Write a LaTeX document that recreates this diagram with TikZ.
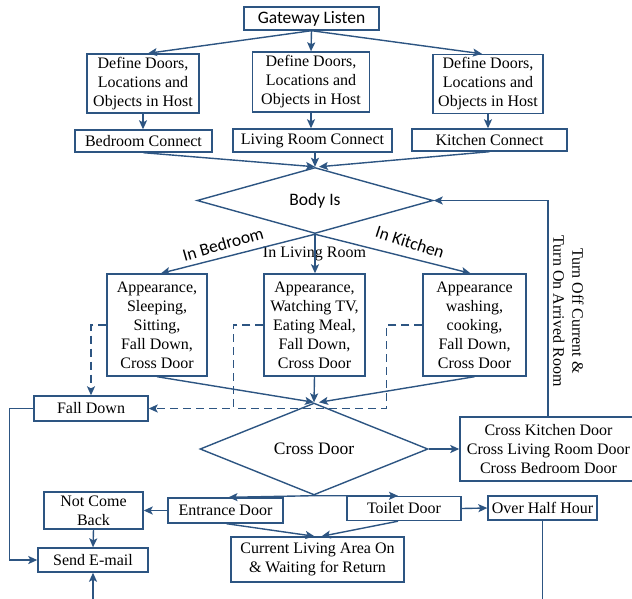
\documentclass[tikz,border=0pt]{standalone}
\usepackage{fontspec}
\setmainfont{Liberation Serif}
\newfontfamily\calibri{Carlito}
\usepackage{tikz}
\usetikzlibrary{arrows.meta,%
		positioning,%
		shapes.geometric}

\definecolor{flowblue}{RGB}{45,85,130}

\begin{document}
\begin{tikzpicture}[x=1pt,y=-1pt,font=\fontsize{16}{19}\selectfont,
  >={Stealth[length=9pt,width=8pt,inset=2pt]},
  box/.style={draw=flowblue,line width=1.4pt,inner sep=0pt,align=center},
  decision/.style={draw=flowblue,line width=1.4pt,diamond,inner sep=0pt},
  sanstext/.style={font=\calibri\fontsize{17.5}{20}\selectfont},
  arrow/.style={->,draw=flowblue,line width=1.4pt},
  dashline/.style={draw=flowblue,line width=1.4pt,dash pattern=on 8pt off 5pt},
  dasharrow/.style={dashline,->}]
  \useasboundingbox (0,0) rectangle (632,598);
  \clip (0,0) rectangle (632,598);

  \node [box,sanstext,minimum width=135pt,minimum height=23pt] (gw) at (311.5,18.5) {Gateway Listen};

  \node [box,minimum width=112pt,minimum height=59pt] (def1) at (143,83.5) {Define Doors,\\Locations and\\Objects in Host};
  \node [box,minimum width=117pt,minimum height=60pt] (def2) at (311,82) {Define Doors,\\Locations and\\Objects in Host};
  \node [box,minimum width=110pt,minimum height=59pt] (def3) at (488,84) {Define Doors,\\Locations and\\Objects in Host};

  \node [box,minimum width=137pt,minimum height=22pt] (con1) at (143.5,141) {Bedroom Connect};
  \node [box,minimum width=159pt,minimum height=23pt] (con2) at (312.5,140.5) {Living Room Connect};
  \node [box,minimum width=155pt,minimum height=22pt] (con3) at (489.5,140) {Kitchen Connect};

  \node [decision,sanstext,minimum width=236pt,minimum height=55pt] (body) at (315,200.5) {Body Is};

  \node [box,minimum width=100pt,minimum height=102pt] (app1) at (157,325) {Appearance,\\Sleeping,\\Sitting,\\Fall Down,\\Cross Door};
  \node [box,minimum width=101pt,minimum height=102pt] (app2) at (314.5,325) {Appearance,\\Watching TV,\\Eating Meal,\\Fall Down,\\Cross Door};
  \node [box,minimum width=103pt,minimum height=102pt] (app3) at (474.5,325) {Appearance\\washing,\\cooking,\\Fall Down,\\Cross Door};

  \node [box,minimum width=114pt,minimum height=25pt] (fall) at (91,408.5) {Fall Down};
  \node [decision,font=\fontsize{17.5}{20}\selectfont,minimum width=228pt,minimum height=54pt] (cross) at (314,449) {Cross Door};
  \node [box,minimum width=177pt,minimum height=64pt] (crossbox) at (548.5,449) {Cross Kitchen Door\\Cross Living Room Door\\Cross Bedroom Door};

  \node [box,minimum width=115pt,minimum height=25pt] (entrance) at (225.5,510.5) {Entrance Door};
  \node [box,minimum width=114pt,minimum height=24pt] (toilet) at (404,508.5) {Toilet Door};
  \node [box,minimum width=109pt,minimum height=24pt] (half) at (542.5,508) {Over Half Hour};
  \node [box,minimum width=99pt,minimum height=37pt] (notback) at (93.5,510.5) {Not Come\\Back};
  \node [box,minimum width=110pt,minimum height=24pt] (send) at (93,560) {Send E-mail};
  \node [box,minimum width=173pt,minimum height=45pt] (current) at (317.5,559.5) {Current Living Area On\\\& Waiting for Return};

  % labels
  \node [sanstext,inner sep=0pt,rotate=16] (lbed) at (223,244) {In Bedroom};
  \node [inner sep=0pt] (lliv) at (314.5,254) {In Living Room};
  \node [sanstext,inner sep=0pt,rotate=-18] (lkit) at (410,242) {In Kitchen};
  \node [rotate=-90,align=center,inner sep=0pt] (lturn) at (568.5,311) {Turn Off Current \&\\Turn On Arrived Room};

  \draw [arrow] (gw.south) -- ([xshift=5pt]def1.north);
  \draw [arrow] (gw.south) -- (def2.north);
  \draw [arrow] (gw.south) -- ([xshift=-6pt]def3.north);

  \draw [arrow] (def1.south) -- (def1.south |- con1.north);
  \draw [arrow] (def2.south) -- (def2.south |- con2.north);
  \draw [arrow] (def3.south) -- (def3.south |- con3.north);

  \draw [arrow] (con1.south) -- (body.north);
  \draw [arrow] (body.north |- con2.south) -- (body.north);
  \draw [arrow] (con3.south) -- ([xshift=4pt]body.north);

  \draw [arrow] (body.south) -- ([xshift=4pt]app1.north);
  \draw [arrow] (body.south) -- (body.south |- app2.north);
  \draw [arrow] (body.south) -- ([xshift=-4pt]app3.north);

  \draw [arrow] (app1.south) -- (cross.north);
  \draw [arrow] (app2.south) -- (cross.north);
  \draw [arrow] (app3.south) -- ([xshift=5pt]cross.north);

  \draw [dasharrow] (app1.west) -| (fall.north);
  \draw [dasharrow] (app2.west) -- ++(-30,0) coordinate (fdjoin) |- (fall.east);
  \draw [dashline] (app3.west) -- ++(-36,0) |- (fdjoin |- fall.east);

  \draw [arrow] (cross.east) -- (crossbox.west);
  \draw [arrow] ([xshift=-0.5pt]crossbox.north) |- (body.east);
  \draw [arrow] (cross.south) -- ([xshift=3pt]entrance.north);
  \draw [arrow] (cross.south) -- ([xshift=-6pt]toilet.north);

  \draw [arrow] (entrance.west) -- (notback.east);
  \draw [arrow] (notback.south) -- (send.north);
  \draw [arrow] (fall.west) -- ++(-24,0) |- (send.west);
  \draw [arrow] (toilet.east) -- (half.west);
  \draw [arrow] (half.south) -- ++(0,100) -| (send.south);
  \draw [arrow] ([xshift=1pt]entrance.south) -- ([xshift=-3pt]current.north);
  \draw [arrow] ([xshift=-6pt]toilet.south) -- ([xshift=4pt]current.north);

\end{tikzpicture}
\end{document}
